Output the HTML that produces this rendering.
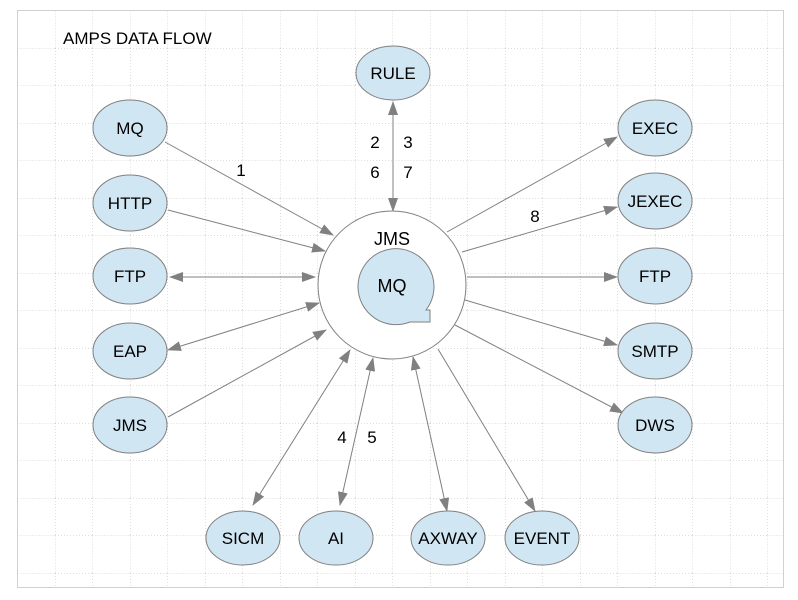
<!DOCTYPE html>
<html><head><meta charset="utf-8"><style>
html,body{margin:0;padding:0;background:#fff;}
svg{display:block;font-family:"Liberation Sans",Arial,sans-serif;}
</style></head><body>
<svg width="798" height="600" viewBox="0 0 798 600" xmlns="http://www.w3.org/2000/svg">
<defs>
<pattern id="g" x="17.5" y="10.5" width="37.5" height="37.5" patternUnits="userSpaceOnUse">
<path d="M0 0H37.5M0 0V37.5" stroke="#bcbcbc" stroke-width="1" stroke-dasharray="1,2" fill="none"/>
</pattern>
<marker id="a" markerWidth="14" markerHeight="10" refX="13" refY="5" orient="auto-start-reverse" markerUnits="userSpaceOnUse">
<path d="M0 0L14 5L0 10z" fill="#808080"/>
</marker>
</defs>
<rect x="17.5" y="10.5" width="766" height="577" fill="url(#g)" stroke="#d0d0d0"/>
<text x="63" y="44" font-size="17">AMPS DATA FLOW</text>
<g stroke="#808080" stroke-width="1" fill="none">
<line x1="165" y1="142" x2="333" y2="235" marker-end="url(#a)"/>
<line x1="168" y1="210" x2="325" y2="251" marker-end="url(#a)"/>
<line x1="170" y1="277" x2="315" y2="277" marker-start="url(#a)" marker-end="url(#a)"/>
<line x1="168" y1="350" x2="319" y2="303" marker-start="url(#a)" marker-end="url(#a)"/>
<line x1="168" y1="417" x2="326" y2="330" marker-end="url(#a)"/>
<line x1="393" y1="102" x2="393" y2="211" marker-start="url(#a)" marker-end="url(#a)"/>
<line x1="447" y1="232" x2="617" y2="137" marker-end="url(#a)"/>
<line x1="462" y1="252" x2="617" y2="207" marker-end="url(#a)"/>
<line x1="467" y1="277" x2="617" y2="277" marker-end="url(#a)"/>
<line x1="465" y1="300" x2="617" y2="345" marker-end="url(#a)"/>
<line x1="455" y1="325" x2="623" y2="413" marker-end="url(#a)"/>
<line x1="253" y1="505" x2="350" y2="350" marker-start="url(#a)" marker-end="url(#a)"/>
<line x1="340" y1="505" x2="373" y2="358" marker-start="url(#a)" marker-end="url(#a)"/>
<line x1="447" y1="511" x2="413" y2="357" marker-start="url(#a)" marker-end="url(#a)"/>
<line x1="438" y1="349" x2="535" y2="511" marker-end="url(#a)"/>
</g>
<circle cx="392" cy="285" r="74" fill="#fff" stroke="#808080"/>
<path d="M426 310 A38 38 0 1 0 410 322 L430 322 L430 310 Z" fill="#d1e6f3" stroke="#808080"/>
<g font-size="18" text-anchor="middle">
<text x="392" y="245">JMS</text>
<text x="392" y="292">MQ</text>
</g>
<g fill="#d1e6f3" stroke="#808080">
<ellipse cx="393" cy="73" rx="37" ry="27"/>
<ellipse cx="130" cy="128" rx="37" ry="28"/>
<ellipse cx="130" cy="203" rx="37" ry="28"/>
<ellipse cx="130" cy="276" rx="37" ry="28"/>
<ellipse cx="130" cy="351" rx="37" ry="28"/>
<ellipse cx="130" cy="425" rx="37" ry="28"/>
<ellipse cx="655" cy="128" rx="37" ry="28"/>
<ellipse cx="655" cy="201" rx="37" ry="28"/>
<ellipse cx="655" cy="276" rx="37" ry="28"/>
<ellipse cx="655" cy="351" rx="37" ry="28"/>
<ellipse cx="655" cy="425" rx="37" ry="28"/>
<ellipse cx="243" cy="538" rx="37" ry="27"/>
<ellipse cx="336" cy="538" rx="37" ry="27"/>
<ellipse cx="448" cy="538" rx="37" ry="27"/>
<ellipse cx="542" cy="538" rx="37" ry="27"/>
</g>
<g font-size="17" text-anchor="middle">
<text x="393" y="79">RULE</text>
<text x="130" y="134">MQ</text>
<text x="130" y="209">HTTP</text>
<text x="130" y="282">FTP</text>
<text x="130" y="357">EAP</text>
<text x="130" y="431">JMS</text>
<text x="655" y="134">EXEC</text>
<text x="655" y="207">JEXEC</text>
<text x="655" y="282">FTP</text>
<text x="655" y="357">SMTP</text>
<text x="655" y="431">DWS</text>
<text x="243" y="544">SICM</text>
<text x="336" y="544">AI</text>
<text x="448" y="544">AXWAY</text>
<text x="542" y="544">EVENT</text>
<text x="241" y="176">1</text>
<text x="375" y="148">2</text>
<text x="408" y="148">3</text>
<text x="375" y="178">6</text>
<text x="408" y="178">7</text>
<text x="535" y="222">8</text>
<text x="342" y="443">4</text>
<text x="372" y="443">5</text>
</g>
</svg>
</body></html>
